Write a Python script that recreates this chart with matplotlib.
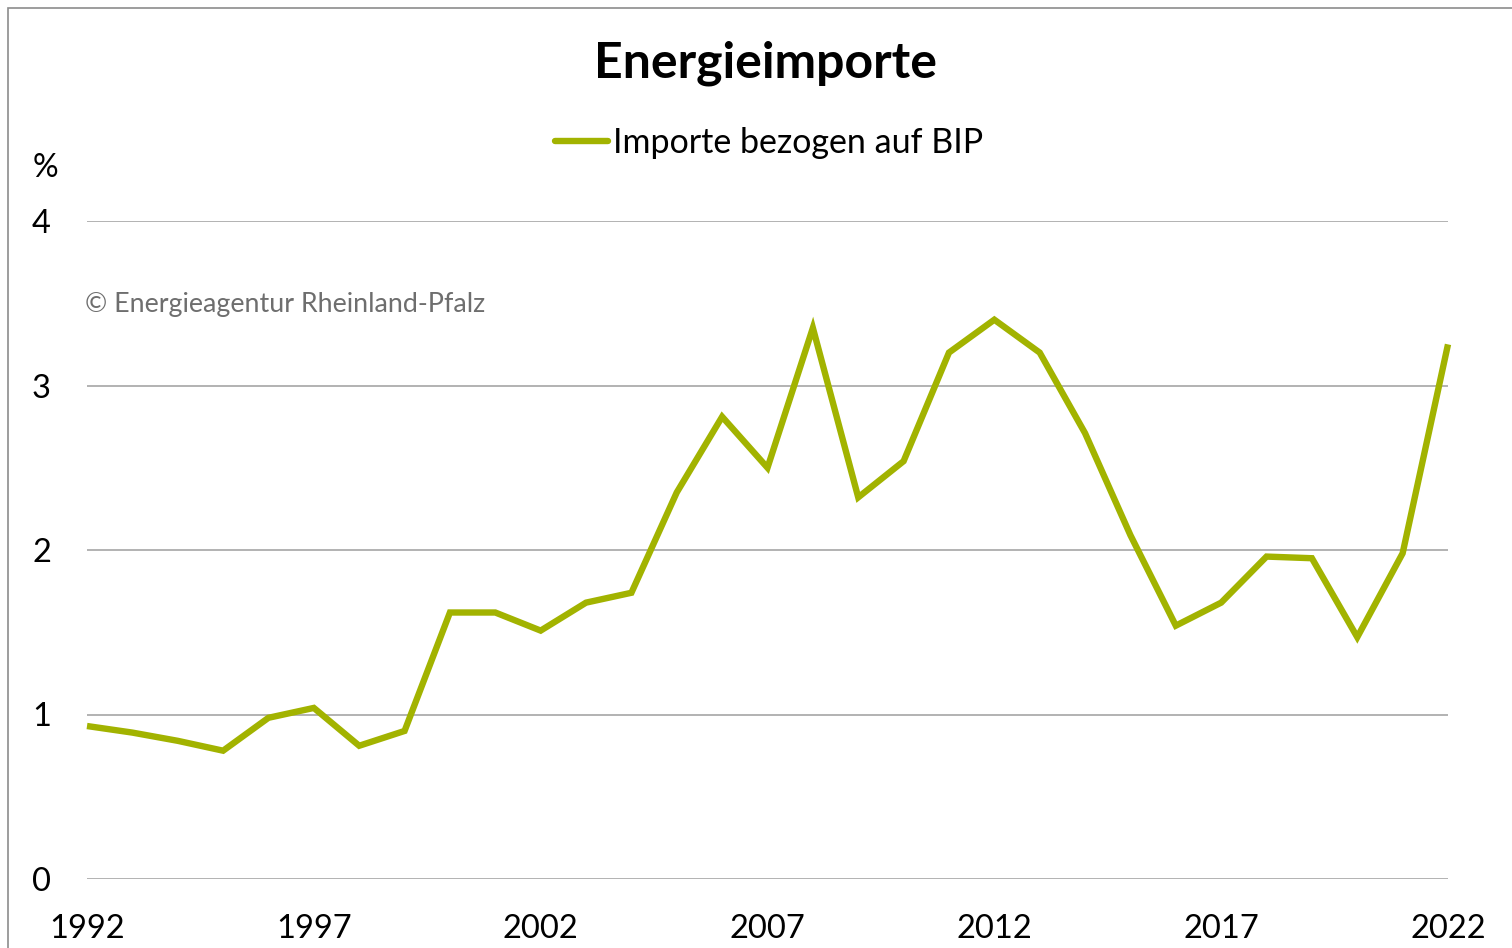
import matplotlib
matplotlib.use("Agg")
import matplotlib.pyplot as plt
from matplotlib.patches import Rectangle

years = list(range(1992, 2023))
values = [0.93, 0.89, 0.84, 0.78, 0.98, 1.04, 0.81, 0.90, 1.62, 1.62,
          1.51, 1.68, 1.74, 2.35, 2.81, 2.50, 3.35, 2.32, 2.54, 3.20,
          3.40, 3.20, 2.71, 2.09, 1.54, 1.68, 1.96, 1.95, 1.47, 1.98, 3.25]
xticks = [1992, 1997, 2002, 2007, 2012, 2017, 2022]
yticks = [0, 1, 2, 3, 4]
title = "Energieimporte"
series_label = "Importe bezogen auf BIP"
credit = "© Energieagentur Rheinland-Pfalz"

plt.rcParams['font.family'] = ['Lato', 'DejaVu Sans']
W, H = 1512, 948
fig = plt.figure(figsize=(W/100, H/100), dpi=100)
fig.patch.set_facecolor('white')

# outer chart border
fig.add_artist(Rectangle((8/W, -0.01), (W+10)/W, 1 - 8/H + 0.01, transform=fig.transFigure,
                         fill=False, edgecolor='#8c8c8c', linewidth=1.2))

ax = fig.add_axes([87/W, 1-879/H, (1448-87)/W, (879-221)/H])
color = '#A2B300'
line, = ax.plot(years, values, color=color, linewidth=4.6, solid_joinstyle='miter',
                solid_capstyle='butt', clip_on=False, zorder=3)
ax.set_xlim(1992, 2022)
ax.set_ylim(0, 4)
ax.set_xticks(xticks)
ax.set_yticks(yticks)
ax.set_xticklabels([str(t) for t in xticks])
ax.tick_params(axis='both', length=0, labelsize=23.5, colors='black')
ax.tick_params(axis='x', pad=25)
ax.tick_params(axis='y', pad=26)
for s in ax.spines.values():
    s.set_visible(False)
ax.grid(axis='y', color='#a6a6a6', linewidth=1.2)
ax.set_axisbelow(True)

fig.text(765/W, 1-63/H, title, ha='center', va='center', fontsize=36, fontweight='bold')
fig.text(33/W, 1-168/H, '%', ha='left', va='center', fontsize=23)
fig.text(85/W, 1-304/H, credit, ha='left', va='center', fontsize=19.3, color='#6e6e6e')

# legend
leg = fig.legend([line], [series_label], loc='center', bbox_to_anchor=(769/W, 1-143/H),
                 frameon=False, fontsize=24.5, handlelength=1.55, handletextpad=0.15)
leg.get_lines()[0].set_solid_capstyle('round')

fig.savefig('out.png', dpi=100)
